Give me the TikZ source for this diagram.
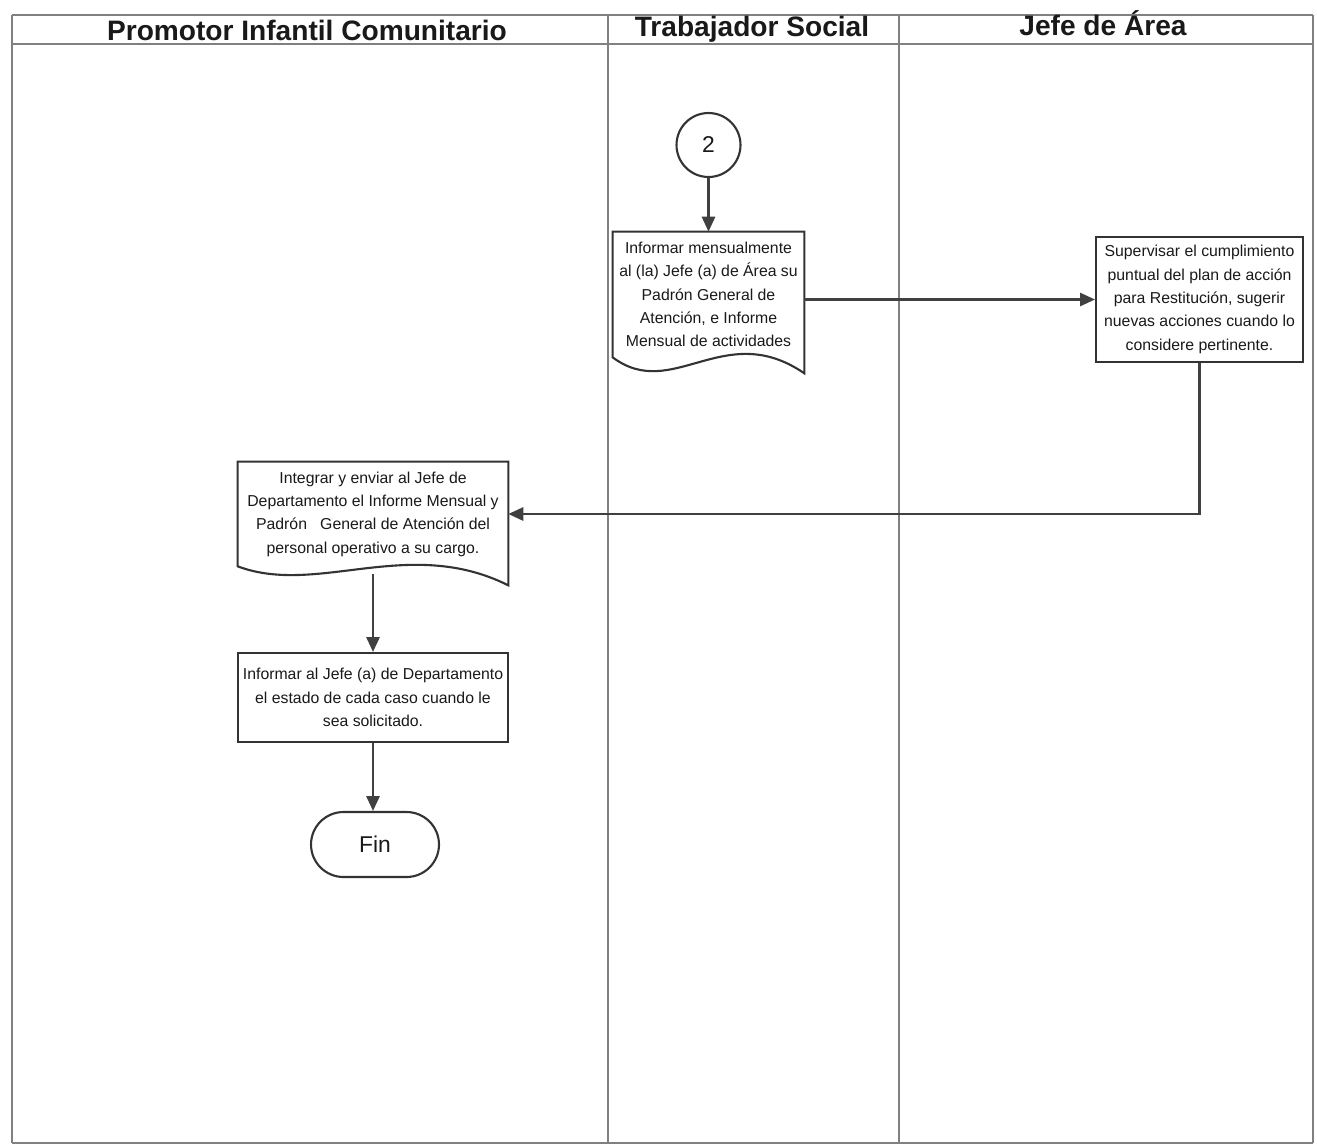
\documentclass[tikz,border=0pt]{standalone}
\usepackage{fontspec}
\setmainfont{Liberation Sans}
\usetikzlibrary{arrows.meta}
\begin{document}
\begin{tikzpicture}[x=0.02cm,y=-0.02cm,
    every node/.style={font=\fontsize{9}{13.3}\selectfont, align=center, text=black!90},
    title/.style={font=\fontsize{16}{18}\selectfont\bfseries},
    proc/.style={draw=black!80, line width=1.2pt, inner sep=0pt},
    doc/.style={inner sep=0pt},
    flow/.style={draw=black!75, line width=1.3pt, -{Triangle[length=8.5pt,width=7.5pt]}},
    lane/.style={draw=black!50, line width=0.7pt}]
  \useasboundingbox (0,0) rectangle (1317,1146);
  % swimlanes
  \draw[lane] (12,15) -- (1313,15) (12,44) -- (1313,44) (12,1143) -- (1313,1143);
  \draw[lane] (12,15) -- (12,1143) (608,15) -- (608,1143) (899,15) -- (899,1143) (1313,15) -- (1313,1143);
  \node[title] (h1) at (307,30) {Promotor Infantil Comunitario};
  \node[title] (h2) at (752,29) {Trabajador Social};
  \node[title] (h3) at (1103,23) {Jefe de Área};
  % steps
  \node[proc, circle, minimum size=1.28cm, font=\fontsize{13}{15}\selectfont] (c2) at (708.5,145) {2};
  \node[doc, minimum width=3.82cm, minimum height=2.5cm] (inf) at (708.5,294.5)
    {Informar mensualmente\\al (la) Jefe (a) de Área su\\Padrón General de\\Atención, e Informe\\Mensual de actividades};
  \draw[proc] (inf.north west) -- (inf.south west)
    .. controls +(60,45) and +(-80,-55) .. ([yshift=-0.32cm]inf.south east)
    -- (inf.north east) -- cycle;
  \node[proc, minimum width=4.14cm, minimum height=2.5cm] (sup) at (1199.5,299.5)
    {Supervisar el cumplimiento\\puntual del plan de acción\\para Restitución, sugerir\\nuevas acciones cuando lo\\considere pertinente.};
  \node[doc, minimum width=5.4cm, minimum height=2.08cm] (int) at (373,514)
    {Integrar y enviar al Jefe de\\Departamento el Informe Mensual y\\Padrón \ \ General de Atención del\\personal operativo a su cargo.};
  \draw[proc] (int.north west) -- (int.south west)
    .. controls +(80,30) and +(-100,-50) .. ([yshift=-0.38cm]int.south east)
    -- (int.north east) -- cycle;
  \node[proc, minimum width=5.4cm, minimum height=1.78cm] (rep) at (373,697.5)
    {Informar al Jefe (a) de Departamento\\el estado de cada caso cuando le\\sea solicitado.};
  \node[proc, minimum width=2.56cm, minimum height=1.3cm, rounded corners=0.65cm,
    font=\fontsize{13}{15}\selectfont] (fin) at (375,844.5) {Fin};
  % connectors
  \begin{scope}[flow]
    \draw (c2.south) -- (inf.north);
    \draw (inf.east |- sup.west) -- (sup.west);
    \draw (sup.south) |- (int.east);
    \draw ([yshift=-0.16cm]int.south) -- (rep.north);
    \draw (rep.south) -- (rep.south |- fin.north);
  \end{scope}
\end{tikzpicture}
\end{document}
